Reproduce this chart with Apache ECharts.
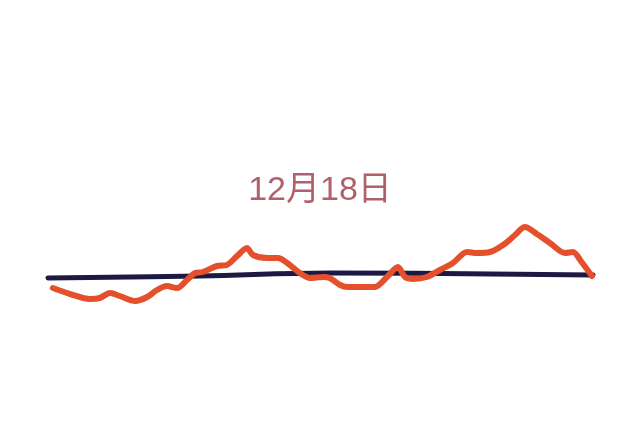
<!DOCTYPE html>
<html>
<head>
<meta charset="utf-8">
<script src="https://cdn.jsdelivr.net/npm/echarts@6/dist/echarts.min.js"></script>
<style>html,body{margin:0;padding:0;background:#fff;}#c{width:640px;height:448px;}</style>
</head>
<body>
<div id="c"></div>
<script>
const titleText = "12月18日";
const orangeX = [0.9,4.6,7.7,9.5,11.4,13.2,16.0,18.2,20.0,21.8,23.7,25.5,27.0,28.4,31.0,32.8,34.7,36.5,37.6,40.2,42.2,43.9,46.2,48.1,50.5,51.7,53.6,54.9,57.8,60.0,62.2,64.2,65.5,67.0,69.5,71.9,74.3,76.9,78.7,81.1,83.5,85.7,87.5,89.7,92.1,94.9,96.3,97.9,99.8];
const orangeY = [-28,-35,-39,-38,-33,-36,-41,-37,-30,-26,-28,-20,-13,-12,-6,-5,4,12,5,2,2,-3,-13,-18,-17,-18,-25,-27,-27,-27,-17,-7,-17,-19,-17,-10,-3,8,7,8,15,25,33,26,17,7,8,-2,-16];
const navyX = [0,27.9,51.7,100];
const navyY = [-18,-16,-13,-15];

const chart = echarts.init(document.getElementById('c'));
chart.setOption({
  backgroundColor: '#ffffff',
  animation: false,
  title: {
    text: titleText, left: 'center', top: 169,
    textStyle: { fontSize: 34, fontWeight: 'normal', color: '#b0606a', fontFamily: '"Liberation Sans", "Noto Sans CJK SC"' }
  },
  grid: { left: 48, right: 47, top: 200, bottom: 128 },
  xAxis: { type: 'value', min: 0, max: 100, show: false },
  yAxis: { type: 'value', min: -60, max: 60, show: false },
  series: [
    {
      type: 'line', data: navyX.map((x,i)=>[x,navyY[i]]), smooth: 0.4, symbol: 'none',
      lineStyle: { color: '#1c1a45', width: 5, cap: 'round', join: 'round' }
    },
    {
      type: 'line', data: orangeX.map((x,i)=>[x,orangeY[i]]), smooth: 0.3, symbol: 'none',
      lineStyle: { color: '#e4502b', width: 6, cap: 'round', join: 'round' }
    }
  ]
});
</script>
</body>
</html>
